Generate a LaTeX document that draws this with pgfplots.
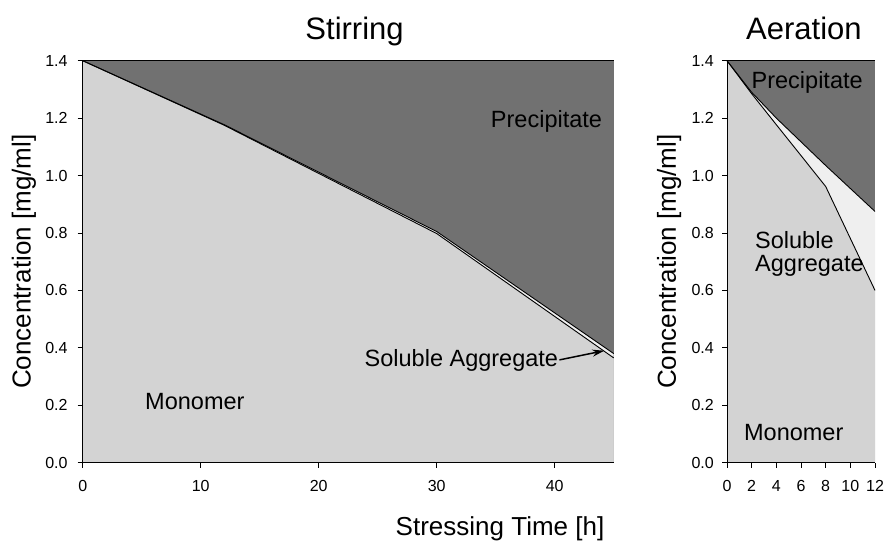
\documentclass[border=0pt]{standalone}
\usepackage{fontspec}
\setmainfont{Liberation Sans}
\usepackage{pgfplots}
\pgfplotsset{compat=1.18}
\usetikzlibrary{arrows.meta}
\definecolor{mono}{HTML}{D3D3D3}
\definecolor{agg}{HTML}{EFEFEF}
\definecolor{prec}{HTML}{717171}
\pgfplotsset{common/.style={
  scale only axis, height=402pt,
  axis x line*=bottom, axis y line*=left,
  axis line style={-, black, line width=0.8pt},
  axis on top=true,
  tick align=outside, major tick length=5pt,
  tick style={black, line width=0.8pt},
  ymin=0, ymax=1.4, ytick={0,0.2,0.4,0.6,0.8,1.0,1.2,1.4},
  /pgf/number format/assume math mode=true,
  yticklabel style={/pgf/number format/fixed, /pgf/number format/fixed zerofill, /pgf/number format/precision=1, anchor=east, inner sep=0pt, font=\fontsize{16}{18}\selectfont},
  xticklabel style={anchor=base, inner sep=0pt, yshift=-24pt, font=\fontsize{16}{18}\selectfont},
  title style={font=\fontsize{31}{35}\selectfont, anchor=base, yshift=15pt},
  ylabel={Concentration [mg/ml]},
  ylabel style={font=\fontsize{26}{30}\selectfont, anchor=base},
  clip=false,
}}
\begin{document}
\begin{tikzpicture}
\useasboundingbox (0,0) rectangle (885pt,541pt);
\begin{axis}[common, at={(82.7pt,78.3pt)}, anchor=south west, width=531pt,
  xmin=0, xmax=45, xtick={0,10,20,30,40}, title={Stirring},
  title style={at={(0.512,1)}},
  yticklabel style={xshift=-10pt},
  ylabel style={at={(axis description cs:-0.098,0.5)}}]
\addplot[draw=none, fill=prec] coordinates {(0,1.4) (45,1.4)} \closedcycle;
\addplot[draw=none, fill=agg] coordinates {(0,1.4) (12,1.177) (30,0.805) (45,0.38)} \closedcycle;
\addplot[draw=none, fill=mono] coordinates {(0,1.4) (12,1.175) (30,0.798) (45,0.365)} \closedcycle;
\addplot[black, line width=0.9pt] coordinates {(0,1.4) (12,1.177) (30,0.805) (45,0.38)};
\addplot[black, line width=0.9pt] coordinates {(0,1.4) (12,1.175) (30,0.798) (45,0.365)};
\addplot[black, line width=0.8pt] coordinates {(0,1.4) (45,1.4)};
\node[anchor=base west, font=\fontsize{23.5}{26}\selectfont] at (axis cs:34.3,1.166) {Precipitate};
\node[anchor=base west, font=\fontsize{23.5}{26}\selectfont] at (axis cs:5.0,0.187) {Monomer};
\node[anchor=base west, font=\fontsize{23.5}{26}\selectfont] at (axis cs:23.6,0.334) {Soluble Aggregate};
\draw[line width=1.5pt, -{Stealth[length=12pt,width=7pt]}] (axis cs:40.4,0.358) -- (axis cs:44.2,0.39);
\end{axis}
\begin{axis}[common, at={(727pt,78.3pt)}, anchor=south west, width=148pt,
  xmin=0, xmax=12, xtick={0,2,4,6,8,10,12}, title={Aeration},
  title style={at={(0.52,1)}},
  yticklabel style={xshift=-8pt},
  ylabel style={at={(axis description cs:-0.345,0.5)}}]
\addplot[draw=none, fill=prec] coordinates {(0,1.4) (12,1.4)} \closedcycle;
\addplot[draw=none, fill=agg] coordinates {(0,1.4) (2,1.29) (4,1.20) (8,1.035) (12,0.875)} \closedcycle;
\addplot[draw=none, fill=mono] coordinates {(0,1.4) (2,1.285) (4,1.177) (8,0.962) (12,0.60)} \closedcycle;
\addplot[black, line width=0.9pt] coordinates {(0,1.4) (2,1.29) (4,1.20) (8,1.035) (12,0.875)};
\addplot[black, line width=0.9pt] coordinates {(0,1.4) (2,1.285) (4,1.177) (8,0.962) (12,0.60)};
\addplot[black, line width=0.8pt] coordinates {(0,1.4) (12,1.4)};
\node[anchor=base, font=\fontsize{23.5}{26}\selectfont] at (axis cs:6.5,1.304) {Precipitate};
\node[anchor=base west, font=\fontsize{23.5}{26}\selectfont] at (axis cs:2.0,0.747) {Soluble};
\node[anchor=base west, font=\fontsize{23.5}{26}\selectfont] at (axis cs:2.0,0.665) {Aggregate};
\node[anchor=base west, font=\fontsize{23.5}{26}\selectfont] at (axis cs:1.1,0.079) {Monomer};
\end{axis}
\node[anchor=base, font=\fontsize{26}{30}\selectfont] at (500pt,6pt) {Stressing Time [h]};
\end{tikzpicture}
\end{document}
